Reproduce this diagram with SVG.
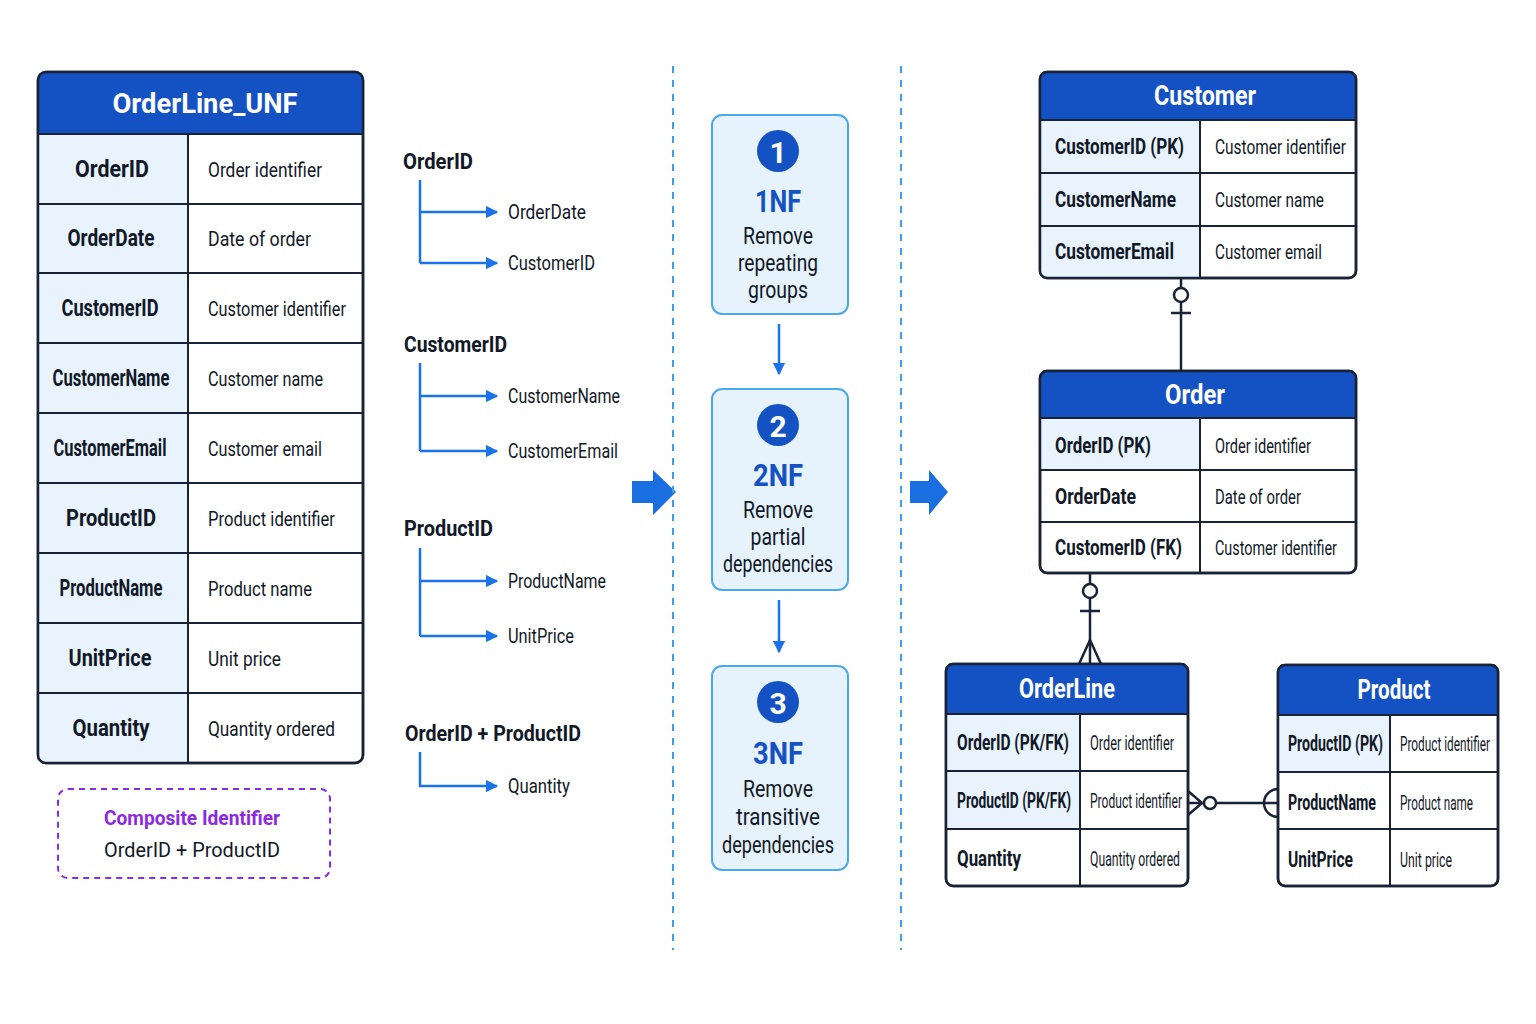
<svg xmlns="http://www.w3.org/2000/svg" width="1536" height="1024" viewBox="0 0 1536 1024">
<defs>
<style>
text{font-family:"Roboto","Liberation Sans",sans-serif;fill:#111827}
.hd{fill:#fff;font-weight:bold;font-size:27px;text-anchor:middle}
.k{font-weight:bold;font-size:22px}
.v{font-size:20px}
.kc{font-weight:bold;font-size:23px;text-anchor:middle}
.fd{font-size:20px}
.fdh{font-weight:bold;font-size:22px}
.box{fill:#fff;stroke:#1a2336;stroke-width:2.5}
.hdr{fill:#1452c4}
.lc{fill:#e8f3fd}
.ln{stroke:#1a2336;stroke-width:2;fill:none}
.fl{stroke:#1a73e8;stroke-width:2.5;fill:none}
.step{fill:#e6f2fc;stroke:#4aa8ec;stroke-width:2}
.st{font-size:23px;text-anchor:middle}
.nf{fill:#1452c4;font-weight:bold;font-size:32px;text-anchor:middle}
.dash{stroke:#3aa0ee;stroke-width:2;stroke-dasharray:7 7}
.er{stroke:#1a2336;stroke-width:2.5;fill:none}
</style>
<marker id="ah" viewBox="0 0 10 10" refX="9" refY="5" markerWidth="5" markerHeight="5" orient="auto"><path d="M0,0L10,5L0,10z" fill="#1a73e8"/></marker>
</defs>
<rect width="1536" height="1024" fill="#fff"/>

<g id="unf">
<rect x="38" y="72" width="325" height="691" rx="8" class="box"/>
<path d="M38,134V80a8,8 0 0 1 8,-8H355a8,8 0 0 1 8,8V134z" class="hdr"/>
<text x="205" y="113" class="hd" textLength="185" lengthAdjust="spacingAndGlyphs">OrderLine_UNF</text>
<rect x="39" y="135" width="149" height="627" class="lc"/>
<g class="ln">
<line x1="38" y1="134" x2="363" y2="134"/><line x1="38" y1="204" x2="363" y2="204"/><line x1="38" y1="273" x2="363" y2="273"/><line x1="38" y1="343" x2="363" y2="343"/><line x1="38" y1="413" x2="363" y2="413"/><line x1="38" y1="483" x2="363" y2="483"/><line x1="38" y1="553" x2="363" y2="553"/><line x1="38" y1="623" x2="363" y2="623"/><line x1="38" y1="693" x2="363" y2="693"/><line x1="188" y1="134" x2="188" y2="763"/>
</g>
<rect x="38" y="72" width="325" height="691" rx="8" fill="none" stroke="#1a2336" stroke-width="2.5"/>
<text x="112" y="177" class="kc" textLength="74" lengthAdjust="spacingAndGlyphs">OrderID</text><text x="208" y="177" class="v" textLength="114" lengthAdjust="spacingAndGlyphs">Order identifier</text>
<text x="111" y="246" class="kc" textLength="87" lengthAdjust="spacingAndGlyphs">OrderDate</text><text x="208" y="246" class="v" textLength="103" lengthAdjust="spacingAndGlyphs">Date of order</text>
<text x="110" y="316" class="kc" textLength="97" lengthAdjust="spacingAndGlyphs">CustomerID</text><text x="208" y="316" class="v" textLength="138" lengthAdjust="spacingAndGlyphs">Customer identifier</text>
<text x="111" y="386" class="kc" textLength="117" lengthAdjust="spacingAndGlyphs">CustomerName</text><text x="208" y="386" class="v" textLength="115" lengthAdjust="spacingAndGlyphs">Customer name</text>
<text x="110" y="456" class="kc" textLength="113" lengthAdjust="spacingAndGlyphs">CustomerEmail</text><text x="208" y="456" class="v" textLength="114" lengthAdjust="spacingAndGlyphs">Customer email</text>
<text x="111" y="526" class="kc" textLength="90" lengthAdjust="spacingAndGlyphs">ProductID</text><text x="208" y="526" class="v" textLength="127" lengthAdjust="spacingAndGlyphs">Product identifier</text>
<text x="111" y="596" class="kc" textLength="103" lengthAdjust="spacingAndGlyphs">ProductName</text><text x="208" y="596" class="v" textLength="104" lengthAdjust="spacingAndGlyphs">Product name</text>
<text x="110" y="666" class="kc" textLength="83" lengthAdjust="spacingAndGlyphs">UnitPrice</text><text x="208" y="666" class="v" textLength="73" lengthAdjust="spacingAndGlyphs">Unit price</text>
<text x="111" y="736" class="kc" textLength="77" lengthAdjust="spacingAndGlyphs">Quantity</text><text x="208" y="736" class="v" textLength="127" lengthAdjust="spacingAndGlyphs">Quantity ordered</text>
</g>

<g id="composite">
<rect x="58" y="789" width="272" height="89" rx="10" fill="#fff" stroke="#8a2be2" stroke-width="2" stroke-dasharray="6 5"/>
<text x="192" y="825" font-size="21" font-weight="bold" text-anchor="middle" style="fill:#8a2be2" textLength="176" lengthAdjust="spacingAndGlyphs">Composite Identifier</text>
<text x="192" y="857" font-size="21" text-anchor="middle" textLength="176" lengthAdjust="spacingAndGlyphs">OrderID + ProductID</text>
</g>

<g id="fds">
<text x="403" y="169" class="fdh" textLength="70" lengthAdjust="spacingAndGlyphs">OrderID</text>
<text x="508" y="219" class="fd" textLength="78" lengthAdjust="spacingAndGlyphs">OrderDate</text><text x="508" y="270" class="fd" textLength="87" lengthAdjust="spacingAndGlyphs">CustomerID</text>
<text x="404" y="352" class="fdh" textLength="103" lengthAdjust="spacingAndGlyphs">CustomerID</text>
<text x="508" y="403" class="fd" textLength="112" lengthAdjust="spacingAndGlyphs">CustomerName</text><text x="508" y="458" class="fd" textLength="110" lengthAdjust="spacingAndGlyphs">CustomerEmail</text>
<text x="404" y="536" class="fdh" textLength="89" lengthAdjust="spacingAndGlyphs">ProductID</text>
<text x="508" y="588" class="fd" textLength="98" lengthAdjust="spacingAndGlyphs">ProductName</text><text x="508" y="643" class="fd" textLength="66" lengthAdjust="spacingAndGlyphs">UnitPrice</text>
<text x="405" y="741" class="fdh" textLength="176" lengthAdjust="spacingAndGlyphs">OrderID + ProductID</text>
<text x="508" y="793" class="fd" textLength="62" lengthAdjust="spacingAndGlyphs">Quantity</text>
</g>

<g id="connectors">
<g class="fl">
<path d="M420,180V263" /><path d="M420,212H497" marker-end="url(#ah)"/><path d="M420,263H497" marker-end="url(#ah)"/>
<path d="M420,363V451"/><path d="M420,396H497" marker-end="url(#ah)"/><path d="M420,451H497" marker-end="url(#ah)"/>
<path d="M420,548V636"/><path d="M420,581H497" marker-end="url(#ah)"/><path d="M420,636H497" marker-end="url(#ah)"/>
<path d="M420,752V786H497" marker-end="url(#ah)"/>
<path d="M779,324V374" marker-end="url(#ah)"/>
<path d="M779,600V652" marker-end="url(#ah)"/>
</g>
<path d="M632,481H653V470L676,492L653,515V503H632z" fill="#1a6fe0"/>
<path d="M910,481H929V470L948,492L929,515V503H910z" fill="#1a6fe0"/>
<line x1="673" y1="66" x2="673" y2="950" class="dash"/>
<line x1="901" y1="66" x2="901" y2="950" class="dash"/>
<g class="er">
<line x1="1181" y1="278" x2="1181" y2="371"/>
<circle cx="1181" cy="295" r="7" fill="#fff"/>
<line x1="1171" y1="313" x2="1191" y2="313"/>
<line x1="1090" y1="573" x2="1090" y2="664"/>
<circle cx="1090" cy="591" r="7" fill="#fff"/>
<line x1="1080" y1="611" x2="1100" y2="611"/>
<path d="M1079,664L1090,640L1101,664"/>
<line x1="1188" y1="803" x2="1278" y2="803"/>
<path d="M1188,791L1202,803L1188,815"/>
<circle cx="1210" cy="803" r="6" fill="#fff"/>
<path d="M1278,789A14,14 0 0 0 1278,817"/>
</g>
</g>

<g id="step1">
<rect x="712" y="115" width="136" height="199" rx="10" class="step"/>
<circle cx="778" cy="151" r="21" fill="#1452c4"/><text x="778" y="163" font-size="30" font-weight="bold" text-anchor="middle" style="fill:#fff">1</text>
<text x="778" y="212" class="nf" textLength="46" lengthAdjust="spacingAndGlyphs">1NF</text>
<text x="778" y="244" class="st" textLength="70" lengthAdjust="spacingAndGlyphs">Remove</text><text x="778" y="271" class="st" textLength="80" lengthAdjust="spacingAndGlyphs">repeating</text><text x="778" y="298" class="st" textLength="60" lengthAdjust="spacingAndGlyphs">groups</text>
</g>
<g id="step2">
<rect x="712" y="389" width="136" height="201" rx="10" class="step"/>
<circle cx="778" cy="425" r="21" fill="#1452c4"/><text x="778" y="437" font-size="30" font-weight="bold" text-anchor="middle" style="fill:#fff">2</text>
<text x="778" y="486" class="nf" textLength="50" lengthAdjust="spacingAndGlyphs">2NF</text>
<text x="778" y="518" class="st" textLength="70" lengthAdjust="spacingAndGlyphs">Remove</text><text x="778" y="545" class="st" textLength="55" lengthAdjust="spacingAndGlyphs">partial</text><text x="778" y="572" class="st" textLength="110" lengthAdjust="spacingAndGlyphs">dependencies</text>
</g>
<g id="step3">
<rect x="712" y="666" width="136" height="204" rx="10" class="step"/>
<circle cx="778" cy="702" r="21" fill="#1452c4"/><text x="778" y="714" font-size="30" font-weight="bold" text-anchor="middle" style="fill:#fff">3</text>
<text x="778" y="764" class="nf" textLength="50" lengthAdjust="spacingAndGlyphs">3NF</text>
<text x="778" y="797" class="st" textLength="70" lengthAdjust="spacingAndGlyphs">Remove</text><text x="778" y="825" class="st" textLength="84" lengthAdjust="spacingAndGlyphs">transitive</text><text x="778" y="853" class="st" textLength="112" lengthAdjust="spacingAndGlyphs">dependencies</text>
</g>

<g id="customer">
<rect x="1040" y="72" width="316" height="206" rx="7" class="box"/>
<path d="M1040,120V79a7,7 0 0 1 7,-7H1349a7,7 0 0 1 7,7V120z" class="hdr"/>
<rect x="1041" y="121" width="159" height="156" class="lc"/>
<g class="ln"><line x1="1040" y1="120" x2="1356" y2="120"/><line x1="1040" y1="173" x2="1356" y2="173"/><line x1="1040" y1="226" x2="1356" y2="226"/><line x1="1200" y1="120" x2="1200" y2="278"/></g>
<rect x="1040" y="72" width="316" height="206" rx="7" fill="none" stroke="#1a2336" stroke-width="2.5"/>
<text x="1205" y="105" class="hd" font-size="25" textLength="102" lengthAdjust="spacingAndGlyphs">Customer</text>
<text x="1055" y="154" class="k" textLength="129" lengthAdjust="spacingAndGlyphs">CustomerID (PK)</text><text x="1215" y="154" class="v" textLength="131" lengthAdjust="spacingAndGlyphs">Customer identifier</text>
<text x="1055" y="207" class="k" textLength="121" lengthAdjust="spacingAndGlyphs">CustomerName</text><text x="1215" y="207" class="v" textLength="109" lengthAdjust="spacingAndGlyphs">Customer name</text>
<text x="1055" y="259" class="k" textLength="119" lengthAdjust="spacingAndGlyphs">CustomerEmail</text><text x="1215" y="259" class="v" textLength="107" lengthAdjust="spacingAndGlyphs">Customer email</text>
</g>

<g id="order">
<rect x="1040" y="371" width="316" height="202" rx="7" class="box"/>
<path d="M1040,418V378a7,7 0 0 1 7,-7H1349a7,7 0 0 1 7,7V418z" class="hdr"/>
<rect x="1041" y="419" width="159" height="52" class="lc"/>
<g class="ln"><line x1="1040" y1="418" x2="1356" y2="418"/><line x1="1040" y1="470" x2="1356" y2="470"/><line x1="1040" y1="522" x2="1356" y2="522"/><line x1="1200" y1="418" x2="1200" y2="573"/></g>
<rect x="1040" y="371" width="316" height="202" rx="7" fill="none" stroke="#1a2336" stroke-width="2.5"/>
<text x="1195" y="404" class="hd" font-size="25" textLength="60" lengthAdjust="spacingAndGlyphs">Order</text>
<text x="1055" y="453" class="k" textLength="96" lengthAdjust="spacingAndGlyphs">OrderID (PK)</text><text x="1215" y="453" class="v" font-size="19" textLength="96" lengthAdjust="spacingAndGlyphs">Order identifier</text>
<text x="1055" y="504" class="k" textLength="81" lengthAdjust="spacingAndGlyphs">OrderDate</text><text x="1215" y="504" class="v" font-size="19" textLength="86" lengthAdjust="spacingAndGlyphs">Date of order</text>
<text x="1055" y="555" class="k" textLength="127" lengthAdjust="spacingAndGlyphs">CustomerID (FK)</text><text x="1215" y="555" class="v" font-size="19" textLength="122" lengthAdjust="spacingAndGlyphs">Customer identifier</text>
</g>

<g id="orderline">
<rect x="946" y="664" width="242" height="222" rx="7" class="box"/>
<path d="M946,714V671a7,7 0 0 1 7,-7H1181a7,7 0 0 1 7,7V714z" class="hdr"/>
<rect x="947" y="715" width="133" height="114" class="lc"/>
<g class="ln"><line x1="946" y1="714" x2="1188" y2="714"/><line x1="946" y1="771" x2="1188" y2="771"/><line x1="946" y1="829" x2="1188" y2="829"/><line x1="1080" y1="714" x2="1080" y2="886"/></g>
<rect x="946" y="664" width="242" height="222" rx="7" fill="none" stroke="#1a2336" stroke-width="2.5"/>
<text x="1067" y="698" class="hd" font-size="25" textLength="96" lengthAdjust="spacingAndGlyphs">OrderLine</text>
<text x="957" y="750" class="k" font-size="20" textLength="112" lengthAdjust="spacingAndGlyphs">OrderID (PK/FK)</text><text x="1090" y="750" class="v" font-size="17" textLength="84" lengthAdjust="spacingAndGlyphs">Order identifier</text>
<text x="957" y="808" class="k" font-size="20" textLength="114" lengthAdjust="spacingAndGlyphs">ProductID (PK/FK)</text><text x="1090" y="808" class="v" font-size="17" textLength="92" lengthAdjust="spacingAndGlyphs">Product identifier</text>
<text x="957" y="866" class="k" font-size="20" textLength="64" lengthAdjust="spacingAndGlyphs">Quantity</text><text x="1090" y="866" class="v" font-size="17" textLength="90" lengthAdjust="spacingAndGlyphs">Quantity ordered</text>
</g>

<g id="product">
<rect x="1278" y="665" width="220" height="221" rx="7" class="box"/>
<path d="M1278,715V672a7,7 0 0 1 7,-7H1491a7,7 0 0 1 7,7V715z" class="hdr"/>
<rect x="1279" y="716" width="111" height="56" class="lc"/>
<g class="ln"><line x1="1278" y1="715" x2="1498" y2="715"/><line x1="1278" y1="772" x2="1498" y2="772"/><line x1="1278" y1="829" x2="1498" y2="829"/><line x1="1390" y1="715" x2="1390" y2="886"/></g>
<rect x="1278" y="665" width="220" height="221" rx="7" fill="none" stroke="#1a2336" stroke-width="2.5"/>
<text x="1394" y="699" class="hd" font-size="25" textLength="73" lengthAdjust="spacingAndGlyphs">Product</text>
<text x="1288" y="751" class="k" font-size="20" textLength="95" lengthAdjust="spacingAndGlyphs">ProductID (PK)</text><text x="1400" y="751" class="v" font-size="16" textLength="90" lengthAdjust="spacingAndGlyphs">Product identifier</text>
<text x="1288" y="810" class="k" font-size="20" textLength="88" lengthAdjust="spacingAndGlyphs">ProductName</text><text x="1400" y="810" class="v" font-size="16" textLength="73" lengthAdjust="spacingAndGlyphs">Product name</text>
<text x="1288" y="867" class="k" font-size="20" textLength="65" lengthAdjust="spacingAndGlyphs">UnitPrice</text><text x="1400" y="867" class="v" font-size="16" textLength="52" lengthAdjust="spacingAndGlyphs">Unit price</text>
</g>
</svg>
